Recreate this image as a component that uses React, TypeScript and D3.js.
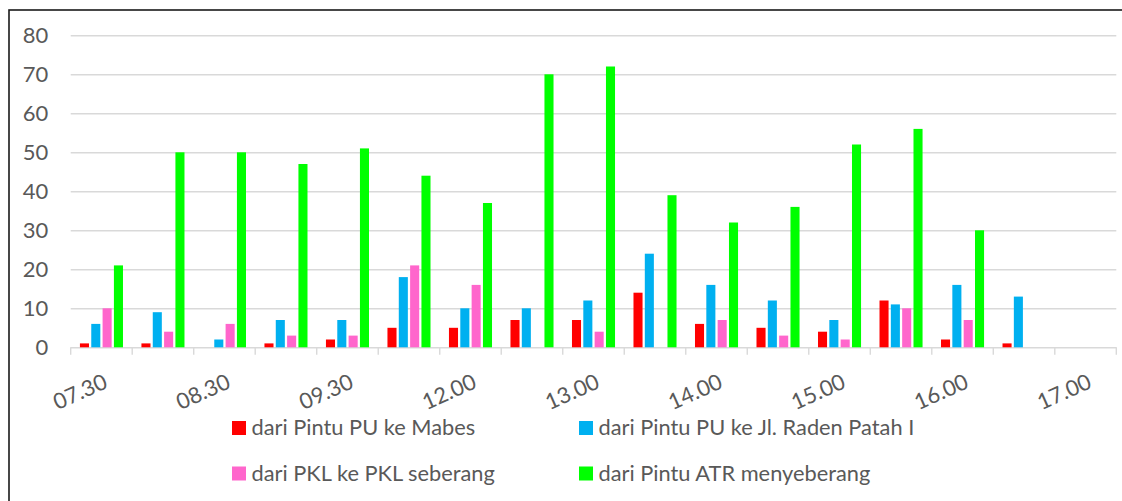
import React, { useEffect, useRef } from 'react';
import * as d3 from 'd3';

// time slots (only every other one is labelled on the axis)
const categories = [
  "07.30", "08.00", "08.30", "09.00", "09.30", "10.00", "12.00", "12.30", "13.00",
  "13.30", "14.00", "14.30", "15.00", "15.30", "16.00", "16.30", "17.00"
];

const seriesNames = [
  "dari Pintu PU ke Mabes",
  "dari Pintu PU ke Jl. Raden Patah I",
  "dari PKL ke PKL seberang",
  "dari Pintu ATR menyeberang"
];
const seriesColors = ["#FF0000", "#00B0F0", "#FF66CC", "#00FF00"];

const puMabes = [1, 1, 0, 1, 2, 5, 5, 7, 7, 14, 6, 5, 4, 12, 2, 1, 0];
const puRadenPatah = [6, 9, 2, 7, 7, 18, 10, 10, 12, 24, 16, 12, 7, 11, 16, 13, 0];
const pklSeberang = [10, 4, 6, 3, 3, 21, 16, 0, 4, 0, 7, 3, 2, 10, 7, 0, 0];
const atrMenyeberang = [21, 50, 50, 47, 51, 44, 37, 70, 72, 39, 32, 36, 52, 56, 30, 0, 0];

const yTicks = [0, 10, 20, 30, 40, 50, 60, 70, 80];

const App = () => {
  const svgRef = useRef<SVGSVGElement>(null);

  useEffect(() => {
    const svg = d3.select(svgRef.current);
    svg.selectAll("*").remove();

    const width = 1122;
    const height = 501;
    const font = "Lato, 'Open Sans', sans-serif";
    const textColor = "#595959";
    const gridColor = "#D9D9D9";

    const left = 70.7, right = 1116.3, top = 35.3, bottom = 347.3;

    // outer frame (only left and top edges are visible)
    svg.append("rect")
      .attr("x", 9).attr("y", 10)
      .attr("width", width + 50).attr("height", height + 50)
      .attr("fill", "#fff")
      .attr("stroke", "#1a1a1a")
      .attr("stroke-width", 1.6);

    const series = [puMabes, puRadenPatah, pklSeberang, atrMenyeberang];
    const rows = categories.map((c, i) => ({
      cat: c,
      values: series.map((s, k) => ({ key: k, value: s[i] }))
    }));

    const x0 = d3.scaleBand()
      .domain(categories)
      .range([left, right])
      .paddingInner(0.3)
      .paddingOuter(0.15);

    const x1 = d3.scaleBand<number>()
      .domain(d3.range(series.length))
      .range([0, x0.bandwidth()])
      .paddingInner(0.2);

    const y = d3.scaleLinear().domain([0, 80]).range([bottom, top]);

    // y axis with gridlines
    const yAxis = svg.append("g")
      .attr("transform", `translate(${left},0)`)
      .call(d3.axisLeft(y).tickValues(yTicks).tickSize(-(right - left)).tickPadding(22.5));
    yAxis.select(".domain").remove();
    yAxis.selectAll(".tick line")
      .attr("stroke", gridColor)
      .attr("stroke-width", 1.4);
    yAxis.selectAll(".tick text")
      .attr("fill", textColor)
      .style("font-family", font)
      .style("font-size", "22px");

    // category boundary ticks
    const xIdx = d3.scaleLinear().domain([0, categories.length]).range([left, right]);
    svg.append("g")
      .selectAll("line")
      .data(d3.range(categories.length + 1))
      .enter()
      .append("line")
      .attr("x1", d => xIdx(d)).attr("x2", d => xIdx(d))
      .attr("y1", bottom).attr("y2", bottom + 7.5)
      .attr("stroke", gridColor)
      .attr("stroke-width", 1.4);

    // bars
    svg.append("g")
      .selectAll("g")
      .data(rows)
      .enter()
      .append("g")
      .attr("transform", d => `translate(${x0(d.cat)},0)`)
      .selectAll("rect")
      .data(d => d.values)
      .enter()
      .append("rect")
      .attr("x", d => x1(d.key) as number)
      .attr("y", d => y(d.value))
      .attr("width", x1.bandwidth())
      .attr("height", d => bottom - y(d.value))
      .attr("fill", d => seriesColors[d.key]);

    // rotated category labels, every other one
    svg.append("g")
      .selectAll("text")
      .data(categories.filter((_, i) => i % 2 === 0))
      .enter()
      .append("text")
      .attr("transform", d => `translate(${(x0(d) as number) + x0.bandwidth() / 2 + 1},${bottom + 25.5}) rotate(-24)`)
      .attr("dy", "0.72em")
      .attr("text-anchor", "end")
      .attr("fill", textColor)
      .style("font-family", font)
      .style("font-size", "22px")
      .text(d => d);

    // legend, two columns by two rows
    const legendX = [232, 579];
    const legendY = [421, 466.5];
    const legend = svg.append("g")
      .selectAll("g")
      .data(seriesNames)
      .enter()
      .append("g")
      .attr("transform", (_, i) => `translate(${legendX[i % 2]},${legendY[Math.floor(i / 2)]})`);
    legend.append("rect")
      .attr("width", 14).attr("height", 14)
      .attr("fill", (_, i) => seriesColors[i]);
    legend.append("text")
      .attr("x", 19.5).attr("y", 14)
      .attr("fill", textColor)
      .style("font-family", font)
      .style("font-size", "21.8px")
      .text(d => d);
  }, []);

  return (
    <svg
      ref={svgRef}
      width={1122}
      height={501}
      style={{ position: 'absolute', left: 0, top: 0, background: '#fff' }}
    />
  );
};

export default App;
